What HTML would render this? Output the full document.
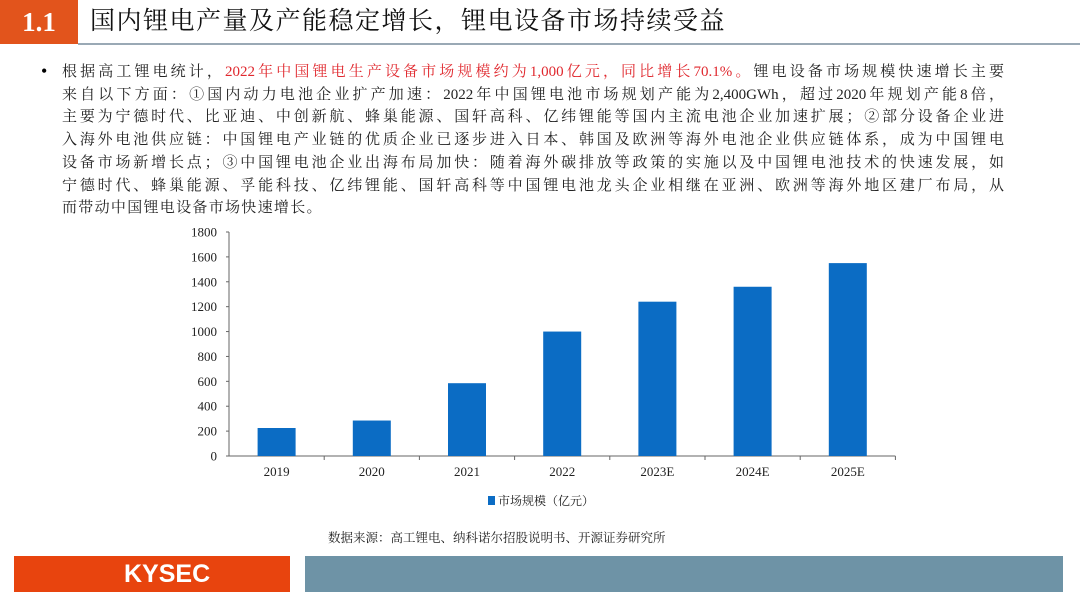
<!DOCTYPE html>
<html><head><meta charset="utf-8">
<style>
body{margin:0;width:1080px;height:607px;background:#fff;position:relative;overflow:hidden;font-family:"Liberation Serif","Noto Serif CJK SC",serif;}
.abs{position:absolute;}
.line{position:absolute;left:62px;width:942px;font-size:15px;line-height:22.7px;height:23px;text-align:justify;text-align-last:justify;white-space:nowrap;color:#222;}
.red{color:#e0282e;}
</style></head><body>
<div class="abs" style="left:0;top:0;width:78px;height:44px;background:#e2541c;color:#fff;font-size:27px;font-weight:bold;line-height:44px;text-align:center;">1.1</div>
<div class="abs" style="left:90px;top:0;height:44px;line-height:44px;font-size:25px;color:#111;letter-spacing:1.5px;">国内锂电产量及产能稳定增长，锂电设备市场持续受益</div>
<div class="abs" style="left:78px;top:43px;width:1002px;height:2px;background:#9aa9b5;"></div>
<div class="abs" style="left:41px;top:60px;font-size:18px;line-height:23px;">•</div>
<div>
<div class="line" style="top:61px">根据高工锂电统计，<span class="red">2022年中国锂电生产设备市场规模约为1,000亿元，同比增长70.1%。</span>锂电设备市场规模快速增长主要</div>
<div class="line" style="top:84px">来自以下方面：①国内动力电池企业扩产加速：2022年中国锂电池市场规划产能为2,400GWh，超过2020年规划产能8倍，</div>
<div class="line" style="top:106px">主要为宁德时代、比亚迪、中创新航、蜂巢能源、国轩高科、亿纬锂能等国内主流电池企业加速扩展；②部分设备企业进</div>
<div class="line" style="top:129px">入海外电池供应链：中国锂电产业链的优质企业已逐步进入日本、韩国及欧洲等海外电池企业供应链体系，成为中国锂电</div>
<div class="line" style="top:152px">设备市场新增长点；③中国锂电池企业出海布局加快：随着海外碳排放等政策的实施以及中国锂电池技术的快速发展，如</div>
<div class="line" style="top:175px">宁德时代、蜂巢能源、孚能科技、亿纬锂能、国轩高科等中国锂电池龙头企业相继在亚洲、欧洲等海外地区建厂布局，从</div>
<div class="line" style="top:197px;text-align-last:left;width:auto;letter-spacing:1.3px">而带动中国锂电设备市场快速增长。</div>
</div>
<svg class="abs" style="left:0;top:0" width="1080" height="607">
<g id="yaxis"></g>
<g id="xaxis"></g>
<g id="bars"></g>
</svg>
<div class="abs" style="left:488px;top:492px;font-size:12px;color:#222;">
<span style="display:inline-block;width:7px;height:9px;background:#0b6cc4;margin-right:3px;"></span>市场规模（亿元）</div>
<div class="abs" style="left:328px;top:528px;font-size:12.5px;color:#222;">数据来源：高工锂电、纳科诺尔招股说明书、开源证券研究所</div>
<div class="abs" style="left:14px;top:556px;width:276px;height:36px;background:#e8440e;color:#fff;font-family:'Liberation Sans',sans-serif;font-weight:bold;font-size:25px;line-height:36px;text-indent:110px;">KYSEC</div>
<div class="abs" style="left:305px;top:556px;width:758px;height:36px;background:#6e93a6;"></div>
<script>
const categories=["2019","2020","2021","2022","2023E","2024E","2025E"];
const values=[225,285,585,1000,1240,1360,1550];
const yTicks=[0,200,400,600,800,1000,1200,1400,1600,1800];
const NS="http://www.w3.org/2000/svg";
const x0=229,y0=456,yTop=232,step=95.2,bw=38,yMax=1800;
const y=v=>y0-(v/yMax)*(y0-yTop);
const xc=i=>x0+step*(i+0.5);
function mk(tag,attrs,parent){const e=document.createElementNS(NS,tag);for(const k in attrs)e.setAttribute(k,attrs[k]);parent.appendChild(e);return e;}
const ya=document.getElementById('yaxis'),xa=document.getElementById('xaxis'),bg=document.getElementById('bars');
mk('line',{x1:x0,y1:yTop,x2:x0,y2:y0,stroke:'#666','stroke-width':1},ya);
yTicks.forEach(t=>{
 mk('line',{x1:x0-3,y1:y(t),x2:x0,y2:y(t),stroke:'#666'},ya);
 const tx=mk('text',{x:x0-12,y:y(t)+4.5,'text-anchor':'end','font-size':13,fill:'#222'},ya);
 
 
 tx.textContent=t;
});
mk('line',{x1:x0,y1:y0,x2:x0+step*categories.length,y2:y0,stroke:'#666'},xa);
categories.forEach((c,i)=>{
 mk('line',{x1:x0+step*(i+1),y1:y0,x2:x0+step*(i+1),y2:y0+4,stroke:'#666'},xa);
 const tx=mk('text',{x:xc(i),y:y0+20,'text-anchor':'middle','font-size':13,fill:'#222'},xa);
 
 
 tx.textContent=c;
 const r=mk('rect',{x:xc(i)-bw/2,y:y(values[i]),width:bw,height:y0-y(values[i]),fill:'#0b6cc4'},bg);
 
 
});
</script>
</body></html>
